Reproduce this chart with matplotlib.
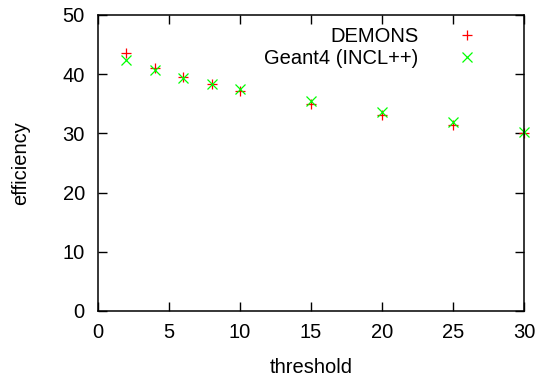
import matplotlib
matplotlib.use("Agg")
import matplotlib.pyplot as plt

plt.rcParams['font.family'] = ['Liberation Sans', 'DejaVu Sans']

threshold = [2, 4, 6, 8, 10, 15, 20, 25, 30]
demons = [43.6, 41.0, 39.6, 38.4, 37.2, 35.0, 33.1, 31.4, 30.0]
geant4 = [42.4, 40.7, 39.4, 38.4, 37.5, 35.4, 33.6, 31.9, 30.2]

FS = 14.5

fig = plt.figure(figsize=(5.39, 3.76), dpi=100)
ax = fig.add_axes([98/539, 65/376, 426/539, 296/376])

ax.plot(threshold, demons, linestyle='none', marker='+', color='#ff0000',
        markersize=7.5, markeredgewidth=0.9, label='DEMONS', clip_on=False)
ax.plot(threshold, geant4, linestyle='none', marker='x', color='#00ff00',
        markersize=7, markeredgewidth=0.9, label='Geant4 (INCL++)', clip_on=False)

ax.set_xlim(0, 30)
ax.set_ylim(0, 50)
ax.set_xticks([0, 5, 10, 15, 20, 25, 30])
ax.set_yticks([0, 10, 20, 30, 40, 50])
ax.tick_params(direction='in', top=True, right=True, length=6.5, width=1,
               labelsize=FS)
ax.tick_params(axis='x', pad=8.5)
ax.tick_params(axis='y', pad=9.5)
for s in ax.spines.values():
    s.set_linewidth(1.1)

ax.set_xlabel('threshold', fontsize=FS)
ax.set_ylabel('efficiency', fontsize=FS)
ax.xaxis.set_label_coords(0.5, -0.158)
ax.yaxis.set_label_coords(-0.16, 0.5)

leg = ax.legend(loc='upper right',
                bbox_to_anchor=(485/539, 357/376), bbox_transform=fig.transFigure,
                frameon=False, markerfirst=False, fontsize=FS, handlelength=1.0,
                handletextpad=1.89, labelspacing=0.15, borderaxespad=0.0,
                borderpad=0.4)

fig.savefig('out.png', dpi=100)
